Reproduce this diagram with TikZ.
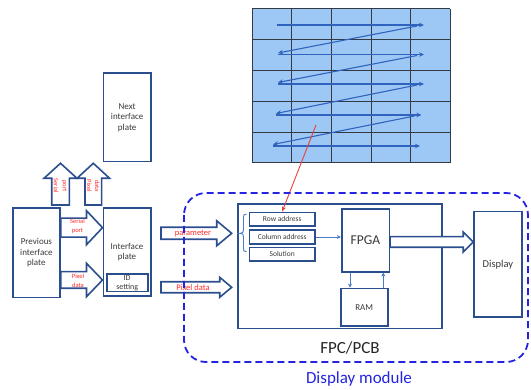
\documentclass[tikz,border=0pt]{standalone}
\usepackage{fontspec}
\setmainfont{Carlito}
\usetikzlibrary{arrows.meta,calc}
\definecolor{boxblue}{HTML}{2B4F8E}
\definecolor{lightarr}{HTML}{4A7CC8}
\definecolor{gridfill}{HTML}{9DC8F5}
\definecolor{gridline}{HTML}{333A44}
\definecolor{zig}{HTML}{2F63BE}
\definecolor{txtgray}{HTML}{3A3A3A}
\definecolor{redtxt}{HTML}{FF2A2A}
\definecolor{redline}{HTML}{E8413C}
\definecolor{dashblue}{HTML}{2424E0}
% horizontal block arrow: start, end, shaft half width, head half width, head length
\newcommand{\hbarrow}[5]{%
  \draw[blockarr] let \p1=(#1), \p2=(#2) in
    (\x1,\y1+#3) -- (\x2-#5,\y1+#3) -- (\x2-#5,\y1+#4) -- (\x2,\y1)
    -- (\x2-#5,\y1-#4) -- (\x2-#5,\y1-#3) -- (\x1,\y1-#3) -- cycle;}
% vertical (upward) block arrow: bottom, tip, shaft half width, head half width, head length
\newcommand{\vbarrow}[5]{%
  \draw[blockarr] let \p1=(#1), \p2=(#2) in
    (\x1-#3,\y1) -- (\x1-#3,\y2-#5) -- (\x1-#4,\y2-#5) -- (\x1,\y2)
    -- (\x1+#4,\y2-#5) -- (\x1+#3,\y2-#5) -- (\x1+#3,\y1) -- cycle;}
\begin{document}
\begin{tikzpicture}[x=1pt,y=-1pt,
  box/.style={draw=boxblue, line width=1.6pt, fill=white, inner sep=0pt, align=center, text=txtgray},
  blockarr/.style={draw=boxblue, line width=1.6pt, fill=white, line join=miter},
  thinarr/.style={draw=lightarr, line width=0.9pt, -{Stealth[length=4pt,width=4pt]}},
  zigarr/.style={draw=zig, line width=1.1pt, -{Stealth[length=5pt,width=4.5pt]}},
  redlbl/.style={text=redtxt, font=\fontsize{6.5}{9}\selectfont, inner sep=0pt, align=center},
  gridln/.style={draw=gridline, line width=1pt},
  midtxt/.style={font=\fontsize{9}{10.5}\selectfont},
  smalltxt/.style={font=\fontsize{7.5}{8}\selectfont},
]
\useasboundingbox (0,0) rectangle (531,390);

% ---------- scan grid ----------
\fill[gridfill] (252,9) rectangle (450,163);
\foreach \x in {252,291.7,331.3,371,410.5,450} \draw[gridln] (\x,9) -- (\x,163);
\foreach \y in {9,40,71,101.7,132.3,163} \draw[gridln] (252,\y) -- (450,\y);
\coordinate (L1) at (277,25);   \coordinate (R1) at (424,25);
\coordinate (L2) at (278,54.5); \coordinate (R2) at (424,54.5);
\coordinate (L3) at (278,84);   \coordinate (R3) at (424,84);
\coordinate (L4) at (276,115);  \coordinate (R4) at (421.5,115);
\coordinate (L5) at (273,146);  \coordinate (R5) at (420,146);
\foreach \i in {1,...,5} \draw[zigarr] (L\i) -- (R\i);
\foreach \i/\j in {1/2,2/3,3/4,4/5} \draw[zigarr] ($(R\i)+(-7,1)$) -- ($(L\j)+(0,-1.5)$);
\coordinate (redstart) at (316,125);

% ---------- left boards ----------
\node[box, minimum width=47.7, minimum height=88.4, midtxt] (next) at (127.2,117.5) {Next\\interface\\plate};
\node[box, minimum width=47.3, minimum height=89.4, midtxt] (prev) at (36.4,253) {Previous\\interface\\plate};
\node[box, minimum width=47.4, minimum height=88, midtxt] (iface) at (127,252) {Interface\\plate};
\node[box, minimum width=41, minimum height=17.4, font=\fontsize{8}{8.8}\selectfont] (idset) at (127.2,283) {ID\\setting};

% up block arrows
\coordinate (u1b) at (60.5,205);  \coordinate (u1t) at (60.5,163.3);
\coordinate (u2b) at (93.3,205);  \coordinate (u2t) at (93.3,163.3);
\vbarrow{u1b}{u1t}{8.8pt}{16.5pt}{15pt}
\vbarrow{u2b}{u2t}{8.3pt}{16.3pt}{15pt}
\node[redlbl, rotate=-90] (l1a) at (56,186) {Serial};
\node[redlbl, rotate=-90] (l1b) at (64.3,186) {port};
\node[redlbl, rotate=-90] (l2a) at (89.3,186) {Pixel};
\node[redlbl, rotate=-90] (l2b) at (97.3,186) {data};

% right block arrows prev -> iface
\coordinate (s1) at (prev.east |- 0,227.7); \coordinate (e1) at (iface.west |- 0,227.7);
\coordinate (s2) at (prev.east |- 0,280);   \coordinate (e2) at (iface.west |- 0,280);
\hbarrow{s1}{e1}{9.5pt}{17pt}{16pt}
\hbarrow{s2}{e2}{8.3pt}{16.7pt}{16pt}
\node[redlbl] (l3) at (77.5,226.7) {Serial\\port};
\node[redlbl] (l4) at (78,281) {Pixel\\data};

% arrows into the display module
\coordinate (s3) at (161,233.3); \coordinate (e3) at (231.7,233.3);
\coordinate (s4) at (161,287.3); \coordinate (e4) at (231.7,287.3);
\hbarrow{s3}{e3}{6pt}{12.5pt}{15pt}
\hbarrow{s4}{e4}{5.5pt}{10pt}{12pt}
\node[text=redtxt, font=\fontsize{8.5}{9}\selectfont, inner sep=0pt] (l5) at (193,233.3) {parameter};
\node[text=redtxt, font=\fontsize{8.5}{9}\selectfont, inner sep=0pt] (l6) at (193,287.3) {Pixel data};

% ---------- FPC/PCB ----------
\node[box, minimum width=204, minimum height=124.3] (fpc) at (339.7,266.2) {};
\node[font=\fontsize{17}{17}\selectfont, text=black!85, inner sep=0pt] (fpclbl) at (350,348) {FPC/PCB};
\node[box, minimum width=65.7, minimum height=13.7, smalltxt] (row) at (282.2,219.2) {Row address};
\node[box, minimum width=65.7, minimum height=14, smalltxt] (col) at (282.2,237) {Column address};
\node[box, minimum width=65.7, minimum height=13.7, smalltxt] (sol) at (282.2,254.2) {Solution};
\node[box, minimum width=47.6, minimum height=62.7, font=\fontsize{13.5}{14}\selectfont] (fpga) at (365.5,240.4) {FPGA};
\node[box, minimum width=47, minimum height=37.7, font=\fontsize{9}{10}\selectfont] (ram) at (364.2,307.2) {RAM};
\node[box, minimum width=47.7, minimum height=105.6, font=\fontsize{10.5}{11}\selectfont] (disp) at (497.9,264.5) {Display};

% brace
\draw[lightarr, line width=0.9pt]
  (246.5,214) .. controls (243.5,214) and (243.5,215) .. (243.5,218)
  -- (243.5,230) .. controls (243.5,232) and (242.5,233.3) .. (240.5,233.3)
  .. controls (242.5,233.3) and (243.5,234.6) .. (243.5,236.6)
  -- (243.5,248) .. controls (243.5,250.7) and (243.5,251.7) .. (246.5,251.7);
\coordinate (bt) at (240.5,233.3);
\draw[lightarr, line width=0.9pt] (bt) -- (fpc.west |- bt);

\draw[thinarr] (col.east) -- (col.east -| fpga.west);
\draw[thinarr] (fpga.south -| 350,0) -- (ram.north -| 350,0);
\draw[thinarr] (ram.north -| 383.3,0) -- (fpga.south -| 383.3,0);

% FPGA -> Display
\coordinate (s5) at (fpga.east |- 0,242); \coordinate (e5) at (disp.west |- 0,242);
\hbarrow{s5}{e5}{5.3pt}{10pt}{10pt}

% red pointer
\draw[redline, line width=0.9pt, -{Stealth[length=5pt,width=4pt]}] (redstart) -- (row.north);

% ---------- display module ----------
\draw[dashblue, line width=1.8pt, dash pattern=on 7pt off 4pt, rounded corners=22pt] (184,193) rectangle (528,362);
\node[font=\fontsize{17}{17}\selectfont, text=dashblue, inner sep=0pt] (dmlbl) at (359,379) {Display module};
\end{tikzpicture}
\end{document}
